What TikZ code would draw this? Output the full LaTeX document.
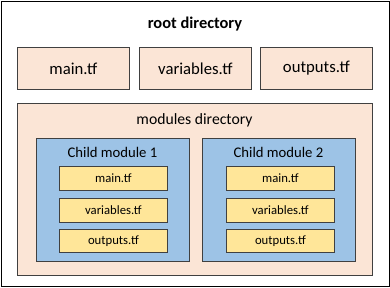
\documentclass[tikz,border=0pt]{standalone}
\usepackage{fontspec}
\setmainfont{Carlito}
\definecolor{peach}{HTML}{FBE5D6}
\definecolor{skyb}{HTML}{9DC3E6}
\definecolor{yell}{HTML}{FFE699}
\definecolor{edge}{HTML}{404040}
\begin{document}
\begin{tikzpicture}[x=1pt,y=-1pt,
  box/.style={draw=edge,line width=0.9pt,inner sep=0pt,anchor=north west},
  rootfile/.style={box,fill=peach,minimum width=112pt,minimum height=42pt,font=\fontsize{16.7}{18}\selectfont},
  modbox/.style={box,fill=skyb,minimum width=153pt,minimum height=123pt},
  inner/.style={box,fill=yell,minimum width=108pt,minimum height=23.5pt,font=\fontsize{12.7}{14}\selectfont}]
\useasboundingbox (0,0) rectangle (390,287);
\fill[white] (0,0) rectangle (390,287);
\node[draw=black,line width=1.2pt,anchor=north west,minimum width=388pt,minimum height=285pt,inner sep=0pt] (outer) at (1,1) {};
\node[font=\bfseries\fontsize{16.4}{18}\selectfont] (roottitle) at (195,24) {root directory};
\node[rootfile] (main) at (17,47) {main.tf};
\node[rootfile] (vars) at (139,47) {variables.tf};
\node[rootfile] (outs) at (260,47) {outputs.tf};
\node[box,fill=peach,minimum width=355pt,minimum height=172pt] (modules) at (17,103) {};
\node[font=\fontsize{15.7}{17}\selectfont] (modtitle) at (194.5,120) {modules directory};
\node[modbox] (c1) at (36,138) {};
\node[modbox] (c2) at (202,138) {};
\node[font=\fontsize{14.7}{16}\selectfont] (c1t) at (112.5,152) {Child module 1};
\node[font=\fontsize{14.7}{16}\selectfont] (c2t) at (278.5,152) {Child module 2};
\node[inner] (c1m) at (59,166) {main.tf};
\node[inner] (c1v) at (59,198) {variables.tf};
\node[inner] (c1o) at (59,228.5) {outputs.tf};
\node[inner] (c2m) at (226,166) {main.tf};
\node[inner] (c2v) at (226,198) {variables.tf};
\node[inner] (c2o) at (226,228.5) {outputs.tf};
\end{tikzpicture}
\end{document}
